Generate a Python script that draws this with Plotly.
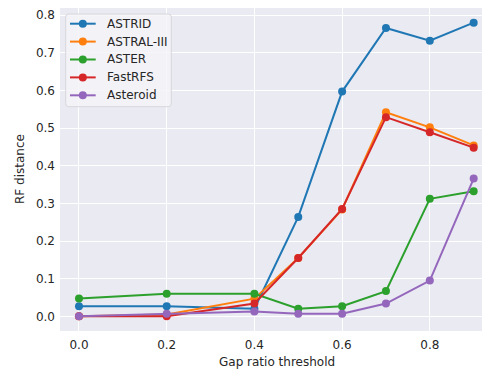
import plotly.graph_objects as go

x_vals = [0.0, 0.2, 0.4, 0.5, 0.6, 0.7, 0.8, 0.9]
astrid = [0.027, 0.027, 0.020, 0.264, 0.597, 0.766, 0.732, 0.780]
astral = [0.000, 0.005, 0.047, 0.155, 0.284, 0.542, 0.502, 0.454]
aster = [0.047, 0.060, 0.060, 0.020, 0.027, 0.067, 0.312, 0.332]
fastrfs = [0.000, 0.000, 0.034, 0.155, 0.285, 0.529, 0.489, 0.448]
asteroid = [0.000, 0.007, 0.013, 0.007, 0.007, 0.034, 0.095, 0.366]

names = ["ASTRID", "ASTRAL-III", "ASTER", "FastRFS", "Asteroid"]
values = [astrid, astral, aster, fastrfs, asteroid]
colors = ["#1f77b4", "#ff7f0e", "#2ca02c", "#d62728", "#9467bd"]

x_ticks = [0.0, 0.2, 0.4, 0.6, 0.8]
y_ticks = [0.0, 0.1, 0.2, 0.3, 0.4, 0.5, 0.6, 0.7, 0.8]

W, H = 482, 370
ML, MR, MT, MB = 60, 0, 8, 39
PW, PH = W - ML - MR, H - MT - MB


def px(xp):
    return (xp - ML) / PW


def py(yp):
    return (H - MB - yp) / PH


fig = go.Figure()
for name, vals, color in zip(names, values, colors):
    fig.add_trace(go.Scatter(
        x=x_vals, y=vals, name=name, mode="lines+markers",
        line=dict(color=color, width=2),
        marker=dict(color=color, size=8),
        showlegend=False,
    ))

# custom legend (matplotlib-like)
shapes = []
annotations = []
bx0, bx1, by0, by1, r = 65.7, 171.3, 14.0, 106.7, 3.0


def rounded_path(x0, x1, y0, y1, r):
    pts = [
        f"M {px(x0 + r)},{py(y0)}",
        f"L {px(x1 - r)},{py(y0)}",
        f"Q {px(x1)},{py(y0)} {px(x1)},{py(y0 + r)}",
        f"L {px(x1)},{py(y1 - r)}",
        f"Q {px(x1)},{py(y1)} {px(x1 - r)},{py(y1)}",
        f"L {px(x0 + r)},{py(y1)}",
        f"Q {px(x0)},{py(y1)} {px(x0)},{py(y1 - r)}",
        f"L {px(x0)},{py(y0 + r)}",
        f"Q {px(x0)},{py(y0)} {px(x0 + r)},{py(y0)}",
        "Z",
    ]
    return " ".join(pts)


shapes.append(dict(
    type="path", xref="paper", yref="paper",
    path=rounded_path(bx0, bx1, by0, by1, r),
    fillcolor="rgba(244,244,248,0.85)",
    line=dict(color="#d6d6dc", width=1),
    layer="above",
))
for i, (name, color) in enumerate(zip(names, colors)):
    cy = 23.7 + 17.9 * i
    shapes.append(dict(
        type="line", xref="paper", yref="paper",
        x0=px(70), x1=px(95.7), y0=py(cy), y1=py(cy),
        line=dict(color=color, width=2), layer="above",
    ))
    shapes.append(dict(
        type="circle", xref="paper", yref="paper",
        xsizemode="pixel", ysizemode="pixel",
        xanchor=px(82.8), yanchor=py(cy),
        x0=-4, x1=4, y0=-4, y1=4,
        fillcolor=color, line=dict(color=color, width=0), layer="above",
    ))
    annotations.append(dict(
        text=name, xref="paper", yref="paper",
        x=px(104.5), y=py(cy), xanchor="left", yanchor="middle",
        showarrow=False, font=dict(size=12, color="#262626"),
    ))

# axis titles
annotations.append(dict(
    text="Gap ratio threshold", xref="paper", yref="paper",
    x=px(276.5), y=py(361.5), xanchor="center", yanchor="middle",
    showarrow=False, font=dict(size=12, color="#262626"),
))
annotations.append(dict(
    text="RF distance", xref="paper", yref="paper",
    x=px(20), y=py(169), xanchor="center", yanchor="middle",
    textangle=-90,
    showarrow=False, font=dict(size=12, color="#262626"),
))

fig.update_layout(
    width=W, height=H,
    margin=dict(l=ML, r=MR, t=MT, b=MB),
    paper_bgcolor="white",
    plot_bgcolor="#EAEAF2",
    font=dict(family="DejaVu Sans", size=12, color="#262626"),
    showlegend=False,
    shapes=shapes,
    annotations=annotations,
    xaxis=dict(
        range=[-0.0433, 0.919],
        tickvals=x_ticks,
        ticktext=[f"{v:.1f}" for v in x_ticks],
        showgrid=True, gridcolor="white", gridwidth=1,
        zeroline=False, showline=False, ticks="",
        ticklabelstandoff=5,
    ),
    yaxis=dict(
        range=[-0.039, 0.819],
        tickvals=y_ticks,
        ticktext=[f"{v:.1f}" for v in y_ticks],
        showgrid=True, gridcolor="white", gridwidth=1,
        zeroline=False, showline=False, ticks="",
        ticklabelstandoff=4,
    ),
)

fig.write_html("out.html")
